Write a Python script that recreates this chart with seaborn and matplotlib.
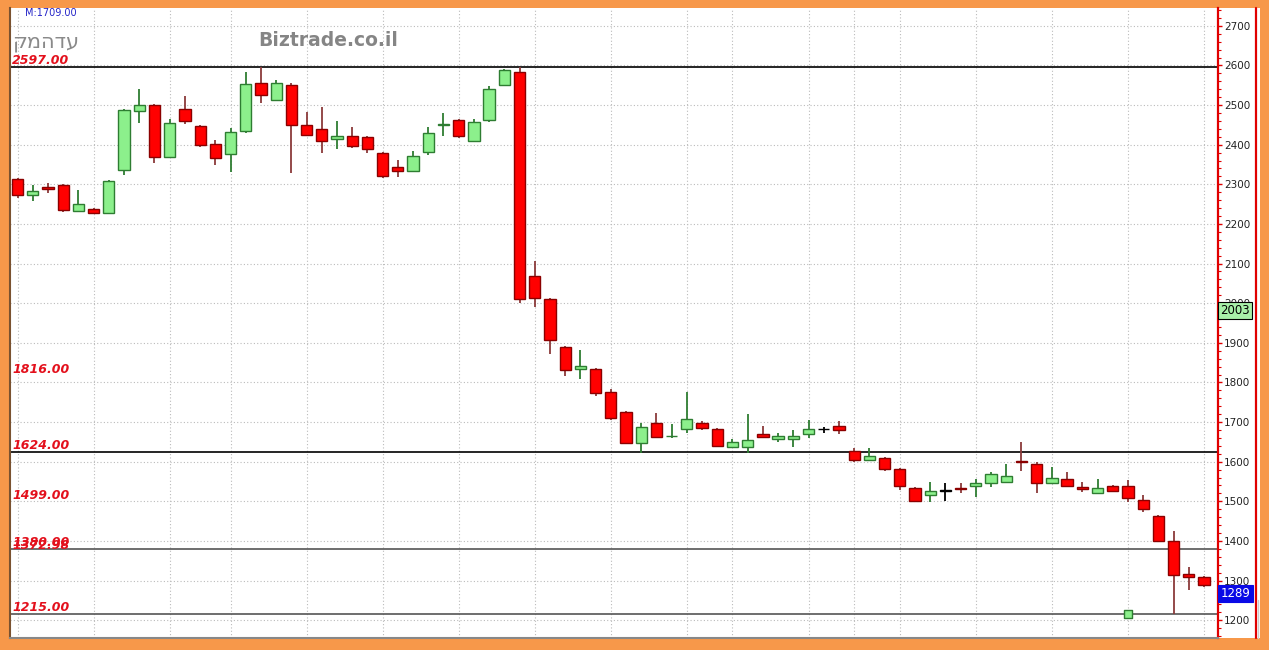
import numpy as np
import pandas as pd
import matplotlib
matplotlib.use('Agg')
import matplotlib.pyplot as plt
from matplotlib.lines import Line2D
from matplotlib.ticker import MultipleLocator, FixedLocator
import seaborn as sns

# daily candles
opens = [2314, 2273, 2293, 2298, 2233, 2238, 2228, 2336, 2485, 2501,
         2369, 2490, 2447, 2402, 2377, 2435, 2556, 2513, 2551, 2450,
         2440, 2415, 2422, 2420, 2379, 2344, 2334, 2382, 2449, 2463,
         2410, 2463, 2551, 2584, 2069, 2010, 1889, 1834, 1834, 1776,
         1725, 1647, 1697, 1664, 1682, 1697, 1682, 1637, 1637, 1670,
         1657, 1657, 1670, 1682, 1690, 1627, 1604, 1609, 1581, 1533,
         1516, 1526, 1534, 1538, 1546, 1548, 1601, 1594, 1546, 1556,
         1536, 1521, 1538, 1538, 1503, 1463, 1400, 1316, 1309]
highs = [2316, 2298, 2303, 2300, 2286, 2240, 2311, 2490, 2541, 2503,
         2465, 2523, 2449, 2412, 2442, 2584, 2596, 2564, 2556, 2483,
         2495, 2460, 2445, 2422, 2381, 2362, 2384, 2445, 2480, 2465,
         2465, 2548, 2592, 2597, 2107, 2012, 1891, 1882, 1836, 1783,
         1727, 1697, 1723, 1695, 1776, 1702, 1684, 1657, 1720, 1690,
         1672, 1680, 1705, 1687, 1702, 1634, 1634, 1611, 1583, 1535,
         1548, 1546, 1546, 1556, 1574, 1594, 1650, 1599, 1587, 1574,
         1548, 1556, 1540, 1553, 1516, 1466, 1425, 1334, 1311]
lows = [2265, 2258, 2278, 2230, 2230, 2226, 2226, 2324, 2455, 2354,
        2367, 2453, 2395, 2349, 2331, 2430, 2506, 2511, 2329, 2423,
        2379, 2389, 2392, 2379, 2316, 2319, 2332, 2374, 2422, 2417,
        2408, 2458, 2549, 2000, 1990, 1872, 1816, 1809, 1766, 1705,
        1645, 1622, 1660, 1660, 1672, 1680, 1637, 1635, 1622, 1660,
        1649, 1637, 1660, 1672, 1670, 1599, 1602, 1576, 1528, 1498,
        1498, 1500, 1521, 1510, 1536, 1546, 1576, 1521, 1544, 1536,
        1523, 1519, 1524, 1498, 1473, 1398, 1215, 1276, 1284]
closes = [2273, 2283, 2288, 2235, 2250, 2228, 2309, 2488, 2501, 2369,
          2455, 2460, 2399, 2367, 2432, 2554, 2526, 2556, 2450, 2425,
          2410, 2422, 2397, 2389, 2321, 2334, 2372, 2430, 2451, 2422,
          2458, 2541, 2589, 2010, 2013, 1907, 1831, 1841, 1773, 1710,
          1647, 1687, 1662, 1666, 1708, 1685, 1639, 1649, 1654, 1662,
          1665, 1665, 1682, 1682, 1680, 1604, 1614, 1581, 1538, 1500,
          1526, 1526, 1532, 1546, 1569, 1564, 1600, 1546, 1559, 1538,
          1531, 1533, 1526, 1508, 1480, 1400, 1314, 1309, 1289]

# vertical grid positions (candle index)
grid_idx = [0, 5, 10, 14, 19, 24, 29, 34, 39, 44, 47, 52, 55, 58, 63, 68, 73, 78]

# support / resistance
line_levels = [2597, 1624, 1380, 1215]
line_colors = ['black', 'black', '#555555', '#555555']
label_levels = [2597.00, 1816.00, 1624.00, 1499.00, 1380.00, 1372.98, 1215.00]
label_texts = ['2597.00', '1816.00', '1624.00', '1499.00', '1380.00', '1372.98', '1215.00']

marker_idx = [73]
marker_val = [1215]
box_green = 2003
box_last = 1289

df = pd.DataFrame({'open': opens, 'high': highs, 'low': lows, 'close': closes})
df['i'] = np.arange(len(df))

up = df.close > df.open
down = df.close < df.open
fill = np.where(up, '#8CF08C', np.where(down, '#FF0000', '#000000'))
edge = np.where(up, '#2E7D32', np.where(down, '#8B0000', '#000000'))
wick = np.where(up, '#2E7D32', np.where(down, '#8B3A3A', '#000000'))

sns.set_style('white')
plt.rcParams['font.family'] = ['DejaVu Sans']

W, H = 1269, 650
fig = plt.figure(figsize=(W / 100, H / 100), dpi=100, facecolor='#F7984A')

# white panel incl. price column
bg = fig.add_axes([10 / W, 1 - 638 / H, 1250 / W, 630 / H], zorder=0)
bg.set_facecolor('white')
bg.set_xticks([])
bg.set_yticks([])
for s in bg.spines.values():
    s.set_visible(False)

ax = fig.add_axes([10 / W, 1 - 638 / H, 1208 / W, 630 / H], zorder=1)
ax.set_facecolor('white')

# candles
ax.vlines(df.i, df.low, df.high, colors=wick, lw=1.3, zorder=2)
body_lo = np.minimum(df.open, df.close)
body_h = np.maximum(np.abs(df.close - df.open), 1.5)
ax.bar(df.i, body_h, bottom=body_lo, width=0.74, color=fill, edgecolor=edge,
       linewidth=1, zorder=3)

sns.scatterplot(x=marker_idx, y=marker_val, marker='s', s=28, color='#8CF08C',
                edgecolor='#2E7D32', linewidth=1, ax=ax, zorder=5, legend=False)

for lv, lc in zip(line_levels, line_colors):
    ax.axhline(lv, color=lc, lw=1.2, zorder=1.5)

for lv, lt in zip(label_levels, label_texts):
    ax.annotate(lt, xy=(0, lv), xycoords=('axes fraction', 'data'),
                xytext=(1.5, 0), textcoords='offset points', ha='left', va='bottom',
                color='#E3101C', fontsize=9, fontweight='bold', fontstyle='italic', zorder=6)

ax.set_xlim(-0.5, 78.92)
ax.set_ylim(1155, 2745)

ax.xaxis.set_major_locator(FixedLocator(grid_idx))
ax.set_xticklabels([])
ax.tick_params(axis='x', length=0)

ax.yaxis.tick_right()
ax.yaxis.set_major_locator(MultipleLocator(100))
ax.yaxis.set_minor_locator(MultipleLocator(20))
ax.set_yticks(range(1200, 2701, 100))
ax.tick_params(axis='y', which='major', direction='out', length=3, width=1,
               color='#E00000', labelsize=7.5, labelcolor='#222222', pad=1.5)
ax.tick_params(axis='y', which='minor', direction='out', length=2, width=0.8, color='#E00000')

ax.grid(True, which='major', color='#BBBBBB', lw=0.8, linestyle=(0, (1, 2)), zorder=0)
ax.set_axisbelow(True)

for s in ['top']:
    ax.spines[s].set_visible(False)
ax.spines['right'].set_color('#E00000')
ax.spines['right'].set_linewidth(1.6)
ax.spines['left'].set_color('#7A5230')
ax.spines['left'].set_linewidth(1.5)
ax.spines['bottom'].set_color('#888888')
ax.spines['bottom'].set_linewidth(1.5)

# outer red line of price column
fig.add_artist(Line2D([1255.5 / W, 1255.5 / W], [1 - 638 / H, 1 - 8 / H], color='#E00000', lw=1.6))
fig.add_artist(Line2D([1258 / W, 1258 / W], [1 - 638 / H, 1 - 600 / H], color='#CCCCCC', lw=1))

# price boxes
ax.annotate(str(box_green), xy=(1, box_green), xycoords=('axes fraction', 'data'),
            xytext=(1.8, -1.5), textcoords='offset points', ha='left', va='top',
            fontsize=8.5, color='black', annotation_clip=False, zorder=7,
            bbox=dict(boxstyle='square,pad=0.18', fc='#A8F0A8', ec='black', lw=0.8))
ax.annotate(str(box_last), xy=(1, box_last), xycoords=('axes fraction', 'data'),
            xytext=(1.8, -1.5), textcoords='offset points', ha='left', va='top',
            fontsize=8.5, color='white', annotation_clip=False, zorder=7,
            bbox=dict(boxstyle='square,pad=0.18', fc='#0A0AE6', ec='#0A0AE6', lw=0.8))

# header texts
fig.text(25 / W, 1 - 13 / H, 'M:1709.00', color='#2424C8', fontsize=7, va='center', ha='left', zorder=8)
fig.text(12 / W, 1 - 42 / H, 'קמהדע', color='#8A8A8A', fontsize=15, va='center', ha='left', zorder=8)
fig.text(258 / W, 1 - 40 / H, 'Biztrade.co.il', color='#858585', fontsize=13.5,
         fontweight='bold', va='center', ha='left', zorder=8)

fig.savefig('out.png', dpi=100, facecolor=fig.get_facecolor())
